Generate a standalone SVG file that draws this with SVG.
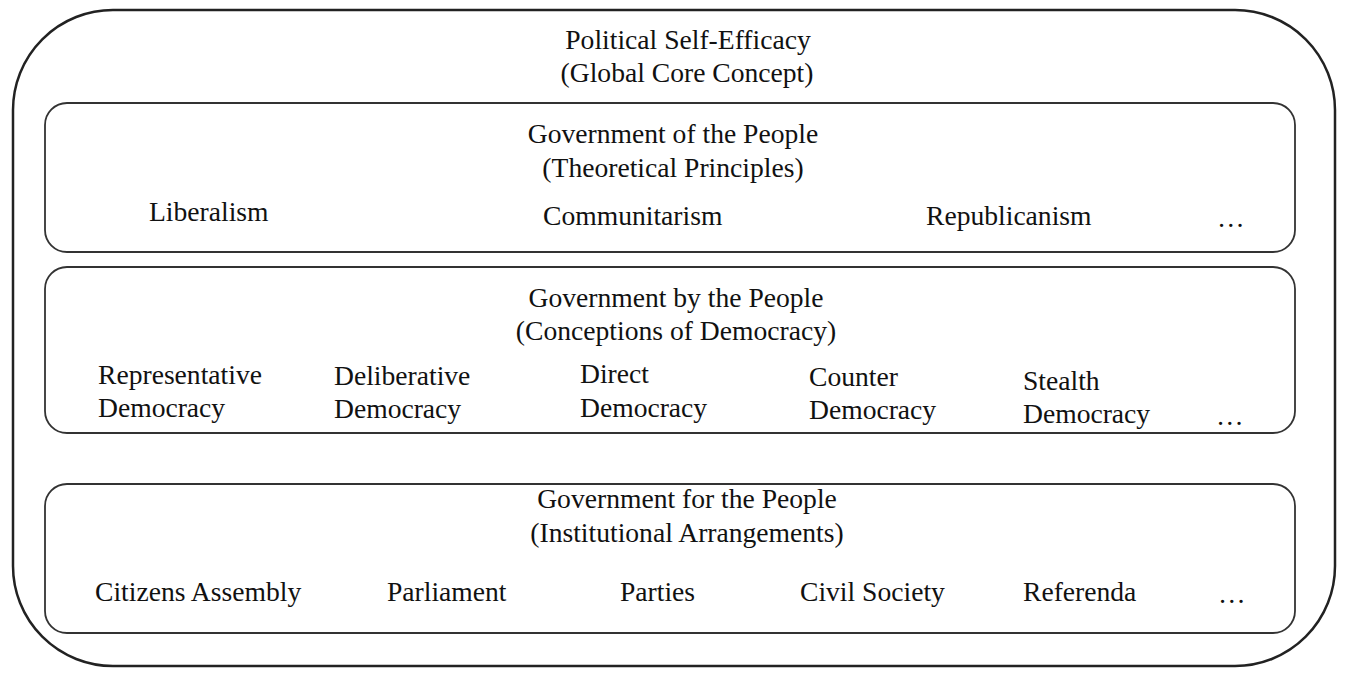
<svg xmlns="http://www.w3.org/2000/svg" width="1350" height="681" viewBox="0 0 1350 681">
<style>
text{font-family:"Liberation Serif","Times New Roman",serif;font-size:27.6px;fill:#111}
.c{text-anchor:middle}
.outer{fill:#fff;stroke:#222;stroke-width:2.5}
.box{fill:none;stroke:#333;stroke-width:1.8}
</style>
<rect x="0" y="0" width="1350" height="681" fill="#fff"/>
<g id="outer">
<rect class="outer" x="13" y="10" width="1322" height="656" rx="100" ry="100"/>
<text class="c" x="688" y="49">Political Self-Efficacy</text>
<text class="c" x="687" y="82">(Global Core Concept)</text>
</g>
<g id="box-of">
<rect class="box" x="45" y="103" width="1250" height="149" rx="22" ry="22"/>
<text class="c" x="673" y="143">Government of the People</text>
<text class="c" x="673" y="177">(Theoretical Principles)</text>
<text x="149" y="221">Liberalism</text>
<text x="543" y="225">Communitarism</text>
<text x="926" y="225">Republicanism</text>
<text x="1217" y="227">…</text>
</g>
<g id="box-by">
<rect class="box" x="45" y="267" width="1250" height="166" rx="22" ry="22"/>
<text class="c" x="676" y="307">Government by the People</text>
<text class="c" x="676" y="340">(Conceptions of Democracy)</text>
<text x="98" y="384">Representative</text>
<text x="98" y="417">Democracy</text>
<text x="334" y="385">Deliberative</text>
<text x="334" y="418">Democracy</text>
<text x="580" y="383">Direct</text>
<text x="580" y="417">Democracy</text>
<text x="809" y="386">Counter</text>
<text x="809" y="419">Democracy</text>
<text x="1023" y="390">Stealth</text>
<text x="1023" y="423">Democracy</text>
<text x="1216" y="425">…</text>
</g>
<g id="box-for">
<rect class="box" x="45" y="484" width="1250" height="149" rx="22" ry="22"/>
<text class="c" x="687" y="508">Government for the People</text>
<text class="c" x="687" y="542">(Institutional Arrangements)</text>
<text x="95" y="601">Citizens Assembly</text>
<text x="387" y="601">Parliament</text>
<text x="620" y="601">Parties</text>
<text x="800" y="601">Civil Society</text>
<text x="1023" y="601">Referenda</text>
<text x="1218" y="603">…</text>
</g>
<g id="connectors"/>
</svg>
